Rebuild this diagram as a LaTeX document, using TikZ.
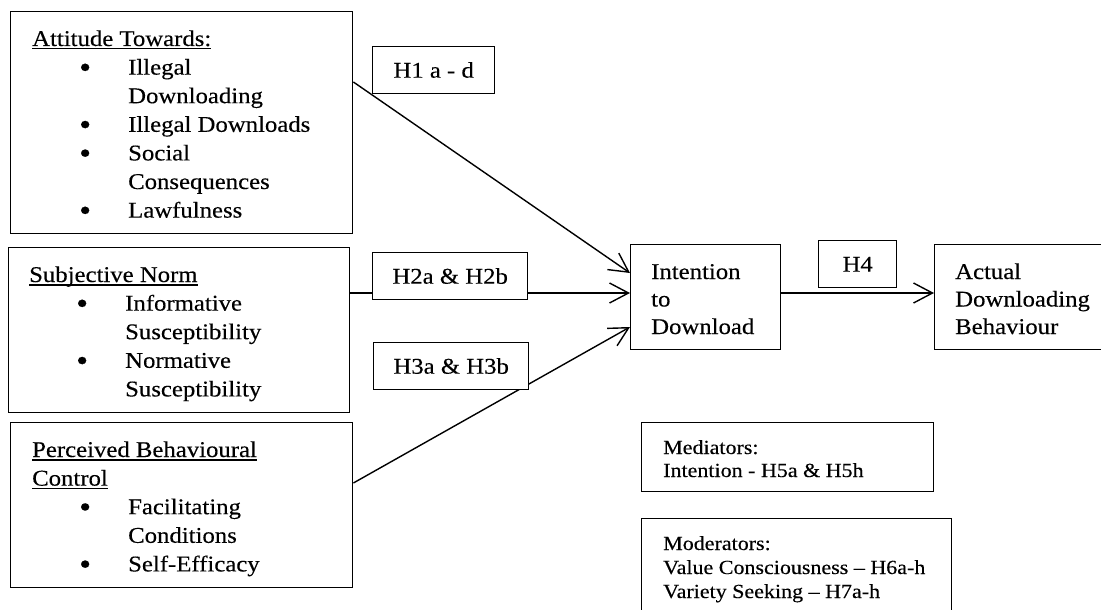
\documentclass[tikz,border=0pt]{standalone}
\usepackage{fontspec}
\setmainfont{Liberation Serif}[FakeStretch=1.1,FakeBold=0.3]
\usetikzlibrary{arrows.meta,calc}

% text sizes
\newcommand\bodysize{\fontsize{22.5}{27}\selectfont}
\newcommand\notesize{\fontsize{20}{24}\selectfont}
% underlined heading with a fixed rule position
\newcommand\headul[1]{\setbox0\hbox{#1}\rlap{\rule[-3.5pt]{\wd0}{1.3pt}}\box0}
% bullet marker followed by the item text
\newcommand\bulmark{\makebox[96pt][l]{\hspace{47pt}\smash{\raisebox{-3pt}{\fontsize{31}{31}\selectfont\textbullet}}}}

\tikzset{
  box/.style={draw, line width=1.4pt, fill=white, inner sep=0pt, anchor=north west},
  hbox/.style={box, text height=31pt, text depth=16pt, font=\bodysize},
  txt/.style={anchor=base west, inner sep=0pt, font=\bodysize},
  note/.style={anchor=base west, inner sep=0pt, font=\notesize},
  link/.style={line width=1.4pt, -{Straight Barb[length=19pt,width=20pt,line width=1.4pt]}},
}

\begin{document}
\begin{tikzpicture}[x=1pt,y=-1pt]
\useasboundingbox (0,0) rectangle (1101,610);
\fill[white] (0,0) rectangle (1101,610);
\clip (0,0) rectangle (1101,610);

% construct boxes (borders only, text placed below)
\node[box, minimum width=342pt, minimum height=222pt] (att) at (10,11) {};
\node[box, minimum width=341pt, minimum height=165pt] (sn) at (8,247) {};
\node[box, minimum width=342pt, minimum height=165pt] (pbc) at (10,422) {};
\node[box, minimum width=149.5pt, minimum height=105pt] (int) at (630,244) {};
\node[box, minimum width=200pt, minimum height=105pt] (act) at (934,244) {};

% connection points
\coordinate (att-out) at ($(att.north east)+(0,71)$);
\coordinate (sn-out) at ($(sn.north east)+(0,46)$);
\coordinate (pbc-out) at ($(pbc.north east)+(0,61)$);
\coordinate (int-in1) at ($(int.north west)+(0,29)$);
\coordinate (int-in2) at ($(int.north west)+(0,49)$);
\coordinate (int-in3) at ($(int.north west)+(0,83)$);
\coordinate (int-out) at ($(int.north east)+(0,49)$);
\coordinate (act-in) at ($(act.north west)+(0,49)$);

% paths into the intention box and on to behaviour
\draw[link] (att-out) -- (int-in1);
\draw[link] (sn-out) -- (int-in2);
\draw[link] (pbc-out) -- (int-in3);
\draw[link] (int-out) -- (act-in);

% hypothesis labels
\node[hbox, minimum width=122pt] (h1) at (372,46) {H1 a - d\hspace{8pt}};
\node[hbox, minimum width=155pt] (h2) at (372,252) {H2a \& H2b};
\node[hbox, minimum width=155pt] (h3) at (373,342) {H3a \& H3b};
\node[hbox, minimum width=78pt] (h4) at (818,240) {H4};

% mediator and moderator boxes
\node[box, minimum width=292pt, minimum height=69pt] (med) at (641,422) {};
\node[box, minimum width=310pt, minimum height=110pt] (mod) at (641,518) {};

% attitude
\node[txt] (att-t) at (32,46) {\headul{Attitude Towards:}};
\node[txt] (att-1) at (32,74.6) {\bulmark Illegal};
\node[txt] (att-2) at (128,103.2) {Downloading};
\node[txt] (att-3) at (32,131.8) {\bulmark Illegal Downloads};
\node[txt] (att-4) at (32,160.4) {\bulmark Social};
\node[txt] (att-5) at (128,189) {Consequences};
\node[txt] (att-6) at (32,217.6) {\bulmark Lawfulness};

% subjective norm
\node[txt] (sn-t) at (29,282) {\headul{Subjective Norm}};
\node[txt] (sn-1) at (29,310.6) {\bulmark Informative};
\node[txt] (sn-2) at (125,339.2) {Susceptibility};
\node[txt] (sn-3) at (29,367.8) {\bulmark Normative};
\node[txt] (sn-4) at (125,396.4) {Susceptibility};

% perceived behavioural control
\node[txt] (pbc-t1) at (32,457) {\headul{Perceived Behavioural}};
\node[txt] (pbc-t2) at (32,485.6) {\headul{Control}};
\node[txt] (pbc-1) at (32,514.2) {\bulmark Facilitating};
\node[txt] (pbc-2) at (128,542.8) {Conditions};
\node[txt] (pbc-3) at (32,571.4) {\bulmark Self-Efficacy};

% intention and behaviour
\node[txt] (int-1) at (651,279) {Intention};
\node[txt] (int-2) at (651,306.5) {to};
\node[txt] (int-3) at (651,334) {Download};
\node[txt] (act-1) at (955,279) {Actual};
\node[txt] (act-2) at (955,306.5) {Downloading};
\node[txt] (act-3) at (955,334) {Behaviour};

% mediators and moderators
\node[note] (med-1) at (663,454) {Mediators:};
\node[note] (med-2) at (663,477) {Intention - H5a \& H5h};
\node[note] (mod-1) at (663,550) {Moderators:};
\node[note] (mod-2) at (663,574) {Value Consciousness – H6a-h};
\node[note] (mod-3) at (663,598) {Variety Seeking – H7a-h};
\end{tikzpicture}
\end{document}
